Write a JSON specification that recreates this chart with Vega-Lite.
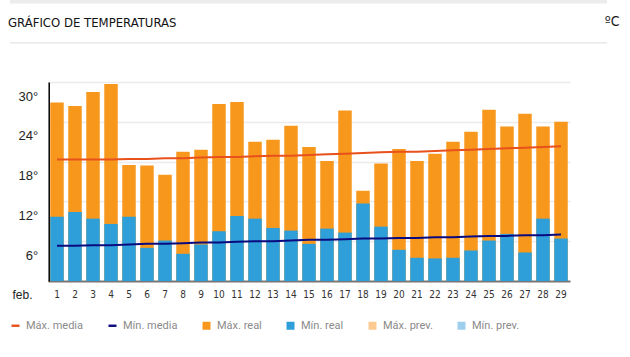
{
  "$schema": "https://vega.github.io/schema/vega-lite/v6.json",
  "width": 597,
  "height": 199,
  "autosize": "none",
  "padding": {"left": 10, "top": 82, "right": 23, "bottom": 76},
  "background": "white",
  "title": {"text": "GRÁFICO DE TEMPERATURAS", "anchor": "start", "frame": "group", "dx": -2, "offset": 0, "dy": 37, "baseline": "middle", "font": "DejaVu Sans Condensed", "fontSize": 13, "fontWeight": "normal", "color": "#111111"},
  "config": {"view": {"stroke": null}, "axisY": {"labelOverlap": false, "labelBound": false}},
  "datasets": {
    "temps": [
      {"d":1,"s":"Máx. real","v":26.9},{"d":2,"s":"Máx. real","v":26.4},{"d":3,"s":"Máx. real","v":28.5},{"d":4,"s":"Máx. real","v":29.7},{"d":5,"s":"Máx. real","v":17.5},{"d":6,"s":"Máx. real","v":17.4},{"d":7,"s":"Máx. real","v":16.0},{"d":8,"s":"Máx. real","v":19.5},{"d":9,"s":"Máx. real","v":19.8},{"d":10,"s":"Máx. real","v":26.7},{"d":11,"s":"Máx. real","v":27.0},{"d":12,"s":"Máx. real","v":21.0},{"d":13,"s":"Máx. real","v":21.3},{"d":14,"s":"Máx. real","v":23.4},{"d":15,"s":"Máx. real","v":20.2},{"d":16,"s":"Máx. real","v":18.1},{"d":17,"s":"Máx. real","v":25.7},{"d":18,"s":"Máx. real","v":13.6},{"d":19,"s":"Máx. real","v":17.7},{"d":20,"s":"Máx. real","v":19.9},{"d":21,"s":"Máx. real","v":18.1},{"d":22,"s":"Máx. real","v":19.2},{"d":23,"s":"Máx. real","v":21.0},{"d":24,"s":"Máx. real","v":22.5},{"d":25,"s":"Máx. real","v":25.8},{"d":26,"s":"Máx. real","v":23.3},{"d":27,"s":"Máx. real","v":25.2},{"d":28,"s":"Máx. real","v":23.3},{"d":29,"s":"Máx. real","v":24.0},
      {"d":1,"s":"Mín. real","v":9.7},{"d":2,"s":"Mín. real","v":10.4},{"d":3,"s":"Mín. real","v":9.4},{"d":4,"s":"Mín. real","v":8.6},{"d":5,"s":"Mín. real","v":9.7},{"d":6,"s":"Mín. real","v":5.0},{"d":7,"s":"Mín. real","v":6.1},{"d":8,"s":"Mín. real","v":4.1},{"d":9,"s":"Mín. real","v":5.5},{"d":10,"s":"Mín. real","v":7.5},{"d":11,"s":"Mín. real","v":9.8},{"d":12,"s":"Mín. real","v":9.4},{"d":13,"s":"Mín. real","v":8.0},{"d":14,"s":"Mín. real","v":7.6},{"d":15,"s":"Mín. real","v":5.6},{"d":16,"s":"Mín. real","v":7.9},{"d":17,"s":"Mín. real","v":7.3},{"d":18,"s":"Mín. real","v":11.7},{"d":19,"s":"Mín. real","v":8.2},{"d":20,"s":"Mín. real","v":4.7},{"d":21,"s":"Mín. real","v":3.5},{"d":22,"s":"Mín. real","v":3.4},{"d":23,"s":"Mín. real","v":3.5},{"d":24,"s":"Mín. real","v":4.6},{"d":25,"s":"Mín. real","v":6.1},{"d":26,"s":"Mín. real","v":7.1},{"d":27,"s":"Mín. real","v":4.3},{"d":28,"s":"Mín. real","v":9.4},{"d":29,"s":"Mín. real","v":6.4},
      {"d":1,"s":"Máx. media","v":18.3},{"d":2,"s":"Máx. media","v":18.3},{"d":3,"s":"Máx. media","v":18.3},{"d":4,"s":"Máx. media","v":18.3},{"d":5,"s":"Máx. media","v":18.4},{"d":6,"s":"Máx. media","v":18.4},{"d":7,"s":"Máx. media","v":18.5},{"d":8,"s":"Máx. media","v":18.5},{"d":9,"s":"Máx. media","v":18.6},{"d":10,"s":"Máx. media","v":18.7},{"d":11,"s":"Máx. media","v":18.7},{"d":12,"s":"Máx. media","v":18.8},{"d":13,"s":"Máx. media","v":18.9},{"d":14,"s":"Máx. media","v":18.9},{"d":15,"s":"Máx. media","v":19.0},{"d":16,"s":"Máx. media","v":19.1},{"d":17,"s":"Máx. media","v":19.2},{"d":18,"s":"Máx. media","v":19.3},{"d":19,"s":"Máx. media","v":19.4},{"d":20,"s":"Máx. media","v":19.5},{"d":21,"s":"Máx. media","v":19.5},{"d":22,"s":"Máx. media","v":19.6},{"d":23,"s":"Máx. media","v":19.7},{"d":24,"s":"Máx. media","v":19.8},{"d":25,"s":"Máx. media","v":19.9},{"d":26,"s":"Máx. media","v":20.0},{"d":27,"s":"Máx. media","v":20.1},{"d":28,"s":"Máx. media","v":20.2},{"d":29,"s":"Máx. media","v":20.3},
      {"d":1,"s":"Mín. media","v":5.3},{"d":2,"s":"Mín. media","v":5.3},{"d":3,"s":"Mín. media","v":5.4},{"d":4,"s":"Mín. media","v":5.4},{"d":5,"s":"Mín. media","v":5.5},{"d":6,"s":"Mín. media","v":5.6},{"d":7,"s":"Mín. media","v":5.6},{"d":8,"s":"Mín. media","v":5.7},{"d":9,"s":"Mín. media","v":5.8},{"d":10,"s":"Mín. media","v":5.8},{"d":11,"s":"Mín. media","v":5.9},{"d":12,"s":"Mín. media","v":6.0},{"d":13,"s":"Mín. media","v":6.0},{"d":14,"s":"Mín. media","v":6.1},{"d":15,"s":"Mín. media","v":6.2},{"d":16,"s":"Mín. media","v":6.2},{"d":17,"s":"Mín. media","v":6.3},{"d":18,"s":"Mín. media","v":6.4},{"d":19,"s":"Mín. media","v":6.4},{"d":20,"s":"Mín. media","v":6.5},{"d":21,"s":"Mín. media","v":6.5},{"d":22,"s":"Mín. media","v":6.6},{"d":23,"s":"Mín. media","v":6.6},{"d":24,"s":"Mín. media","v":6.7},{"d":25,"s":"Mín. media","v":6.8},{"d":26,"s":"Mín. media","v":6.8},{"d":27,"s":"Mín. media","v":6.9},{"d":28,"s":"Mín. media","v":6.9},{"d":29,"s":"Mín. media","v":7.0}
    ],
    "sep": [{"k": "top"}]
  },
  "layer": [
    {
      "data": {"name": "temps"},
      "transform": [{"filter": "datum.s == 'Máx. real'"}],
      "mark": {"type": "bar"},
      "encoding": {
        "x": {"field": "d", "type": "ordinal",
          "scale": {"domain": [1,2,3,4,5,6,7,8,9,10,11,12,13,14,15,16,17,18,19,20,21,22,23,24,25,26,27,28,29], "range": [38, 560], "paddingInner": 0.25, "paddingOuter": 0.125},
          "axis": {"title": "feb.", "titleX": 12, "titleY": 13, "titleAlign": "center", "titleBaseline": "middle", "titleFontWeight": "normal", "titleFontSize": 12, "titleFont": "Liberation Sans", "titleColor": "#222", "domain": false, "ticks": false, "labelAngle": 0, "labelPadding": 8, "labelFontSize": 10, "labelFont": "DejaVu Sans Condensed", "labelColor": "#333", "labelOverlap": false, "grid": false}},
        "y": {"field": "v", "type": "quantitative", "scale": {"domain": [0, 30], "nice": false, "zero": true},
          "axis": {"orient": "left", "offset": -38.7, "values": [0,6,12,18,24,30], "tickCount": 12, "labelExpr": "datum.value == 0 ? '' : datum.value + '°'", "labelOverlap": false, "labelBound": false, "ticks": false, "domainColor": "#000", "domainWidth": 1.5, "labelPadding": 11, "labelOffset": 14, "labelFontSize": 13, "labelFont": "Liberation Sans", "labelColor": "#222", "gridColor": {"condition": {"test": "datum.value == 0", "value": "#777777"}, "value": "#ebebeb"}, "gridWidth": {"condition": {"test": "datum.value == 0", "value": 2}, "value": 1.5}, "title": "ºC", "titleAngle": 0, "titleX": 563, "titleY": -61, "titleAlign": "center", "titleBaseline": "middle", "titleFontWeight": "normal", "titleFontSize": 14, "titleFont": "DejaVu Sans Condensed", "titleColor": "#1a1a1a"}},
        "color": {"field": "s", "type": "nominal",
          "scale": {"domain": ["Máx. media","Mín. media","Máx. real","Mín. real","Máx. prev.","Mín. prev."], "range": ["#e8501c","#0b0b80","#f7981d","#2e9fd9","#fdca92","#9fcfef"]},
          "legend": {"orient": "none", "legendX": 0, "legendY": 238, "direction": "horizontal", "columns": 6, "title": null, "symbolSize": 64, "labelFontSize": 11, "labelFont": "Roboto", "labelColor": "#8a8a8a", "columnPadding": 23, "labelOffset": 5, "padding": 0,
            "encode": {"symbols": {"update": {"shape": {"signal": "datum.index < 2 ? 'M-1,-0.3H1V0.3H-1Z' : 'square'"}, "fill": {"scale": "color", "field": "value"}, "stroke": {"value": "transparent"}, "strokeWidth": {"value": 0}, "opacity": {"value": 1}}}}}}
      }
    },
    {
      "data": {"name": "temps"},
      "transform": [{"filter": "datum.s == 'Mín. real'"}],
      "mark": {"type": "bar"},
      "encoding": {
        "x": {"field": "d", "type": "ordinal"},
        "y": {"field": "v", "type": "quantitative"},
        "color": {"field": "s", "type": "nominal"}
      }
    },
    {
      "data": {"name": "temps"},
      "transform": [{"filter": "datum.s == 'Máx. media' || datum.s == 'Mín. media'"}],
      "mark": {"type": "line", "strokeWidth": 2},
      "encoding": {
        "x": {"field": "d", "type": "ordinal"},
        "y": {"field": "v", "type": "quantitative"},
        "color": {"field": "s", "type": "nominal"}
      }
    },
    {
      "data": {"name": "sep"},
      "mark": {"type": "rule", "color": "#dddddd", "strokeWidth": 1},
      "encoding": {"y": {"datum": 35.9}}
    },
    {
      "data": {"name": "sep"},
      "mark": {"type": "rule", "color": "#ececec", "strokeWidth": 5},
      "encoding": {"y": {"datum": 42.2}}
    }
  ]
}
